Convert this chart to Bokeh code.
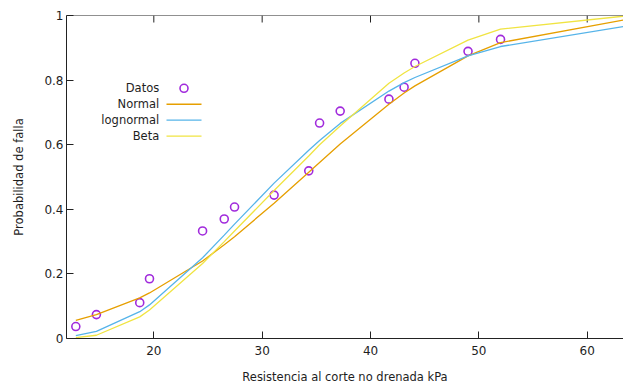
import math

from bokeh.plotting import figure
from bokeh.models import Range1d, FixedTicker, Span
from bokeh.core.properties import value
from bokeh.embed import file_html
from bokeh.resources import INLINE

# Observed undrained shear strength (kPa) and empirical failure probability
resistencia = [12.8, 14.7, 18.7, 19.6, 24.5, 26.5, 27.45, 31.1, 34.3, 35.3,
               37.2, 41.7, 43.1, 44.1, 49.0, 52.0]
prob_datos = [0.037, 0.074, 0.111, 0.185, 0.333, 0.370, 0.407, 0.444, 0.519,
              0.667, 0.704, 0.741, 0.778, 0.852, 0.889, 0.926]

# Fitted distributions evaluated at the same abscissas (plus the upper end)
x_ajuste = resistencia + [63.4]
prob_normal = [0.056, 0.074, 0.126, 0.141, 0.240, 0.290, 0.315, 0.419, 0.515,
               0.545, 0.602, 0.725, 0.760, 0.782, 0.875, 0.916, 0.986]
prob_lognormal = [0.009, 0.022, 0.083, 0.104, 0.250, 0.320, 0.354, 0.481, 0.583,
                  0.613, 0.666, 0.766, 0.792, 0.808, 0.875, 0.904, 0.966]
prob_beta = [0.003, 0.010, 0.067, 0.088, 0.232, 0.300, 0.333, 0.458, 0.565,
             0.600, 0.658, 0.790, 0.822, 0.842, 0.924, 0.958, 0.998]

series_names = ["Datos", "Normal", "lognormal", "Beta"]
series_colors = ["#a12bdc", "#e69f00", "#56b4e9", "#f0e442"]

x_ticks = [10, 20, 30, 40, 50, 60]
y_ticks = [0, 0.2, 0.4, 0.6, 0.8, 1]
y_tick_labels = ["0", "0.2", "0.4", "0.6", "0.8", "1"]

FONT = "DejaVu Sans"
TXT = "#1e1e1e"
BORDER = "#222222"
FRAME_W, FRAME_H = 557, 324

p = figure(width=623, height=386,
           x_range=Range1d(11.94, 63.35), y_range=Range1d(0, 1),
           output_backend="svg", toolbar_location=None,
           min_border_left=66, min_border_right=0,
           min_border_top=15, min_border_bottom=47,
           x_axis_label="Resistencia al corte no drenada kPa",
           y_axis_label="Probabilidad de falla")
p.xgrid.visible = False
p.ygrid.visible = False
p.outline_line_color = None
p.background_fill_color = "white"
p.border_fill_color = "white"

# pixel-based ranges over the frame, used to lay out the key
p.extra_x_ranges = {"key_x": Range1d(0, FRAME_W)}
p.extra_y_ranges = {"key_y": Range1d(0, FRAME_H)}


def style_axis(ax):
    ax.axis_line_color = BORDER
    ax.axis_line_width = 1
    ax.major_tick_line_color = BORDER
    ax.major_tick_in = 7
    ax.major_tick_out = 0
    ax.minor_tick_line_color = None
    ax.major_label_text_font = FONT
    ax.major_label_text_font_size = "12px"
    ax.major_label_text_color = TXT
    ax.axis_label_text_font = FONT
    ax.axis_label_text_font_size = "11.5px"
    ax.axis_label_text_font_style = "normal"
    ax.axis_label_text_color = TXT


xa = p.xaxis[0]
xa.ticker = FixedTicker(ticks=x_ticks)
style_axis(xa)
xa.major_label_standoff = 7
xa.axis_label_standoff = 12

ya = p.yaxis[0]
ya.ticker = FixedTicker(ticks=y_ticks)
ya.major_label_overrides = {t: s for t, s in zip(y_ticks, y_tick_labels)}
style_axis(ya)
ya.major_label_standoff = 3
ya.axis_label_standoff = 15

# top border with inward mirrored ticks
p.add_layout(Span(location=1, dimension="width", line_color=BORDER, line_width=1))
p.ray(x=x_ticks, y=[1] * len(x_ticks), length=7, length_units="screen",
      angle=-math.pi / 2, line_color=BORDER, line_width=1)

p.scatter(resistencia, prob_datos, marker="circle", size=8,
          fill_color=None, line_color=series_colors[0], line_width=1.6)
p.line(x_ajuste, prob_normal, line_color=series_colors[1], line_width=1.3)
p.line(x_ajuste, prob_lognormal, line_color=series_colors[2], line_width=1.3)
p.line(x_ajuste, prob_beta, line_color=series_colors[3], line_width=1.3)

# key: right-aligned names, samples to their right
key_rows = [251 - 16 * i for i in range(len(series_names))]
key_kw = dict(x_range_name="key_x", y_range_name="key_y")
p.text(x=[92.7] * len(series_names), y=key_rows, text=series_names,
       text_align="right", text_baseline="middle",
       text_font=value(FONT), text_font_size="11.5px", text_color=TXT, **key_kw)
p.scatter(x=[117.5], y=key_rows[:1], marker="circle", size=8,
          fill_color=None, line_color=series_colors[0], line_width=1.6, **key_kw)
p.segment(x0=[100] * 3, y0=key_rows[1:], x1=[135] * 3, y1=key_rows[1:],
          line_color=series_colors[1:], line_width=1.3, **key_kw)

open("out.html", "w").write(file_html(p, INLINE))
